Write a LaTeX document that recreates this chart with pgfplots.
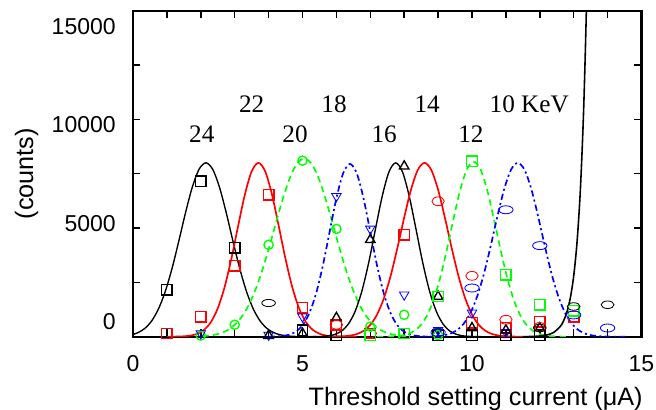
\documentclass[11pt,border=0pt]{standalone}
\usepackage{fontspec}
\setmainfont{Liberation Sans}
\newfontfamily\seriffont{Liberation Serif}
\usepackage{pgfplots}
\pgfplotsset{compat=1.18}
\definecolor{mygreen}{RGB}{0,255,0}
\definecolor{myblue}{RGB}{0,0,255}
\definecolor{myred}{RGB}{255,0,0}
\begin{document}
\begin{tikzpicture}
\useasboundingbox (-63.33pt,-34.9pt) rectangle (249.05pt,160.33pt);
\begin{axis}[
  at={(0,0)}, anchor=south west,
  scale only axis, width=242.14pt, height=155.24pt,
  xmin=0, xmax=15, ymin=0, ymax=15000,
  xtick={0,5,10,15}, minor xtick={1,2,3,4,6,7,8,9,11,12,13,14},
  ytick={0,5000,10000,15000}, minor ytick={2500,7500,12500},
  tick align=inside,
  major tick length=3.5pt, minor tick length=3.5pt,
  every tick/.append style={black, line width=0.7pt},
  axis line style={line width=1pt},
  scaled y ticks=false,
  xticklabel style={/pgf/number format/assume math mode=true, yshift=-5.3pt},
  yticklabel={\pgfmathsetmacro\myshift{7.2-4.9*\ticknum}\raisebox{\myshift pt}[\height][\depth]{\pgfmathprintnumber[assume math mode=true,1000 sep={}]{\tick}}},
  yticklabel style={xshift=-4.4pt},
  ylabel={(counts)},
  ylabel style={at={(axis description cs:-0.209,0.5)}, anchor=center, font=\fontsize{12}{14}\selectfont},
  xlabel={Threshold setting current (μA)},
  xlabel style={at={(axis description cs:1,0)}, anchor=north east, inner sep=0pt, yshift=-24pt, xshift=0.7pt, font=\fontsize{12}{14}\selectfont},
  clip mode=individual,
  mk/.style={only marks, mark options={solid, line width=0.65pt}},
]
% ---- fitted curves ----
\addplot[black, line width=0.65pt, smooth] coordinates {(0,105)(0.15,188)(0.35,383)(0.55,724)(0.75,1271)(0.95,2071)(1.15,3131)(1.35,4389)(1.55,5706)(1.75,6885)(1.95,7706)(2.15,8000)(2.35,7706)(2.55,6885)(2.75,5706)(2.95,4389)(3.15,3131)(3.35,2071)(3.55,1271)(3.75,724)(3.95,383)(4.15,188)(4.35,85)(4.55,36)(4.75,14)(4.95,5)(5.5,0)};
\addplot[myred, line width=0.8pt, smooth] coordinates {(1.0,0)(1.3,6)(1.5,18)(1.7,52)(1.9,135)(2.1,318)(2.3,677)(2.5,1304)(2.7,2270)(2.9,3572)(3.1,5083)(3.3,6539)(3.5,7607)(3.7,8000)(3.9,7607)(4.1,6539)(4.3,5083)(4.5,3572)(4.7,2270)(4.9,1304)(5.1,677)(5.3,318)(5.5,135)(5.7,52)(5.9,18)(6.1,6)(6.6,0)};
\addplot[mygreen, line width=0.8pt, smooth, dash pattern=on 3pt off 2pt] coordinates {(2.05,25)(2.25,52)(2.45,104)(2.65,199)(2.85,360)(3.05,620)(3.25,1012)(3.45,1570)(3.65,2313)(3.85,3236)(4.05,4299)(4.25,5424)(4.45,6499)(4.65,7395)(4.85,7991)(5.05,8200)(5.25,7991)(5.45,7395)(5.65,6499)(5.85,5424)(6.05,4299)(6.25,3236)(6.45,2313)(6.65,1570)(6.85,1012)(7.05,620)(7.25,360)(7.45,199)(7.65,104)(7.85,52)(8.05,25)};
\addplot[myblue, line width=0.8pt, smooth, dash pattern=on 3pt off 1.5pt on 1pt off 1.5pt] coordinates {(4.0,0)(4.2,10)(4.4,31)(4.6,88)(4.8,227)(5.0,522)(5.2,1076)(5.4,1983)(5.6,3268)(5.8,4822)(6.0,6366)(6.2,7521)(6.4,7950)(6.6,7521)(6.8,6366)(7.0,4822)(7.2,3268)(7.4,1983)(7.6,1076)(7.8,522)(8.0,227)(8.2,88)(8.4,31)(8.6,10)(8.8,0)};
\addplot[black, line width=0.65pt, smooth] coordinates {(5.3,0)(5.55,12)(5.75,37)(5.95,103)(6.15,257)(6.35,574)(6.55,1155)(6.75,2087)(6.95,3385)(7.15,4932)(7.35,6452)(7.55,7581)(7.75,8000)(7.95,7581)(8.15,6452)(8.35,4932)(8.55,3385)(8.75,2087)(8.95,1155)(9.15,574)(9.35,257)(9.55,103)(9.75,37)(9.95,12)(10.3,0)};
\addplot[myred, line width=0.8pt, smooth] coordinates {(5.8,0)(6.0,7)(6.2,19)(6.4,50)(6.6,120)(6.8,266)(7.0,544)(7.2,1021)(7.4,1763)(7.6,2799)(7.8,4086)(8.0,5482)(8.2,6762)(8.4,7671)(8.6,8000)(8.8,7671)(9.0,6762)(9.2,5482)(9.4,4086)(9.6,2799)(9.8,1763)(10.0,1021)(10.2,544)(10.4,266)(10.6,120)(10.8,50)(11.0,19)(11.2,7)(11.5,0)};
\addplot[mygreen, line width=0.8pt, smooth, dash pattern=on 3pt off 2pt] coordinates {(7.2,0)(7.45,4)(7.65,13)(7.85,37)(8.05,94)(8.25,218)(8.45,465)(8.65,907)(8.85,1619)(9.05,2643)(9.25,3947)(9.45,5391)(9.65,6736)(9.85,7699)(10.05,8050)(10.25,7699)(10.45,6736)(10.65,5391)(10.85,3947)(11.05,2643)(11.25,1619)(11.45,907)(11.65,465)(11.85,218)(12.05,94)(12.25,37)(12.45,13)(12.65,4)(12.9,0)};
\addplot[myblue, line width=0.8pt, smooth, dash pattern=on 3pt off 1.5pt on 1pt off 1.5pt] coordinates {(8.5,0)(8.75,8)(8.95,22)(9.15,57)(9.35,135)(9.55,293)(9.75,587)(9.95,1083)(10.15,1841)(10.35,2883)(10.55,4163)(10.75,5541)(10.95,6794)(11.15,7680)(11.35,8000)(11.55,7680)(11.75,6794)(11.95,5541)(12.15,4163)(12.35,2883)(12.55,1841)(12.75,1083)(12.95,587)(13.15,293)(13.35,135)(13.55,57)(13.75,22)(13.95,8)(14.15,3)(14.6,0)};
\addplot[black, line width=0.75pt, smooth] coordinates {(11.5,0)(11.8,13)(12.0,31)(12.2,76)(12.4,188)(12.6,461)(12.7,724)(12.8,1135)(12.9,1780)(13.0,2791)(13.1,4377)(13.2,6864)(13.3,10765)(13.4,16884)(13.5,26475)};
% ---- measured points ----
\addplot[mk, black, mark=square, mark size=2.5pt] coordinates {(1,2160)(2,7150)(3,4100)(5,300)(6,60)(7,60)(9,60)(10,60)(11,60)(12,60)};
\addplot[mk, black, mark=o, mark size=1.7pt, mark options={xscale=1.9}] coordinates {(4,1550)};
\addplot[mk, myred, mark=square, mark size=2.5pt] coordinates {(1,150)(2,920)(3,3270)(4,6530)(5,1330)(6,550)(7,150)(10,640)(11,400)(12,690)(13,920)};
\addplot[mk, mygreen, mark=o, mark size=2.2pt] coordinates {(2,50)(3,550)(4,4230)(5,8100)(6,4960)(7,460)(8,1010)(9,80)};
\addplot[mk, myblue, mark=triangle, mark size=2.6pt, mark options={rotate=180}] coordinates {(2,150)(4,80)(5,920)(6,6460)(7,4960)(8,1930)(9,300)(10,1100)(11,200)};
\addplot[mk, black, mark=triangle, mark size=2.6pt] coordinates {(4,50)(5,150)(6,870)(7,4460)(8,7840)(9,1850)(10,400)(11,300)(12,400)};
\addplot[mk, myred, mark=o, mark size=2.1pt, mark options={xscale=1.4}] coordinates {(6,550)(7,150)(9,6230)(10,2800)(11,780)(12,450)};
\addplot[mk, myred, mark=square, mark size=2.5pt] coordinates {(8,4690)};
\addplot[mk, mygreen, mark=square, mark size=2.5pt] coordinates {(7,80)(8,150)(9,1850)(10,8070)(11,2850)(12,1470)(13,1200)};
\addplot[mk, myblue, mark=o, mark size=1.9pt, mark options={xscale=1.8}] coordinates {(9,200)(10,2240)(11,5840)(12,4190)(13,1000)(14,400)};
\addplot[mk, black, mark=o, mark size=1.8pt, mark options={xscale=1.7}] coordinates {(12,400)(13,1390)(14,1470)};
% ---- energy labels ----
\begin{scope}[every node/.style={font=\seriffont\fontsize{12}{14}\selectfont, inner sep=0pt}]
\node at (axis cs:2.03,9300) {24};
\node at (axis cs:3.50,10680) {22};
\node at (axis cs:4.78,9300) {20};
\node at (axis cs:5.93,10680) {18};
\node at (axis cs:7.41,9300) {16};
\node at (axis cs:8.68,10680) {14};
\node at (axis cs:9.97,9300) {12};
\node at (axis cs:11.69,10680) {10 KeV};
\end{scope}
\end{axis}
\end{tikzpicture}
\end{document}
